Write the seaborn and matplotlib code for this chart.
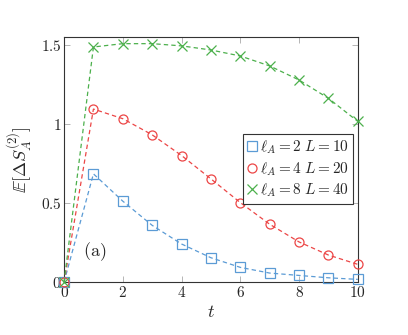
import numpy as np
import pandas as pd
import matplotlib
matplotlib.use('Agg')
import matplotlib.pyplot as plt
from matplotlib.lines import Line2D
from matplotlib.ticker import FuncFormatter
import seaborn as sns

# values
t = [0, 1, 2, 3, 4, 5, 6, 7, 8, 9, 10]
s_l2 = [0, 0.685, 0.512, 0.359, 0.241, 0.154, 0.093, 0.057, 0.042, 0.027, 0.017]
s_l4 = [0, 1.095, 1.034, 0.932, 0.801, 0.653, 0.503, 0.366, 0.254, 0.171, 0.112]
s_l8 = [0, 1.488, 1.509, 1.509, 1.495, 1.469, 1.431, 1.368, 1.279, 1.163, 1.017]
labels = [r'$\ell_A=2\ L=10$', r'$\ell_A=4\ L=20$', r'$\ell_A=8\ L=40$']

colors = ['#5b9bd5', '#ec4646', '#4cb04c']
markers = ['s', 'o', 'x']

sns.set_style('ticks')
plt.rcParams['font.family'] = ['DejaVu Serif']
plt.rcParams['mathtext.fontset'] = 'cm'

fig = plt.figure(figsize=(4.08, 3.35), dpi=100)
ax = fig.add_axes([0.157, 0.158, 0.72, 0.731])

for vals, lab, c, m in zip([s_l2, s_l4, s_l8], labels, colors, markers):
    df = pd.DataFrame({'t': t, 'S': vals})
    sns.lineplot(data=df, x='t', y='S', ax=ax, color=c, linestyle=(0, (3.5, 2.5)),
                 linewidth=0.9, marker=m, markersize=6.5, markerfacecolor='none',
                 markeredgecolor=c, markeredgewidth=0.9, clip_on=False, zorder=3)

ax.set_xlim(0, 10)
ax.set_ylim(0, 1.55)
ax.set_xticks([0, 2, 4, 6, 8, 10])
ax.set_yticks([0, 0.5, 1, 1.5])
fmt = FuncFormatter(lambda v, p: '$%g$' % v)
ax.xaxis.set_major_formatter(fmt)
ax.yaxis.set_major_formatter(fmt)
ax.tick_params(direction='in', top=True, right=True, length=4, width=0.5,
               color='#999999', labelsize=11, pad=2)
for sp in ax.spines.values():
    sp.set_linewidth(0.8)
    sp.set_color('#333333')

ax.set_xlabel('$t$', fontsize=13, labelpad=2)
ax.set_ylabel(r'$\mathbb{E}[\Delta S_A^{(2)}]$', fontsize=13, labelpad=4)

ax.text(1.05, 0.19, r'$\mathrm{(a)}$', fontsize=13, ha='center', va='center')

handles = [Line2D([], [], linestyle='none', marker=m, markersize=6.5,
                  markerfacecolor='none', markeredgecolor=c, markeredgewidth=0.9)
           for c, m in zip(colors, markers)]
leg = ax.legend(handles, labels, loc='upper right', bbox_to_anchor=(0.985, 0.605),
                fontsize=11, frameon=True, fancybox=False, framealpha=1,
                edgecolor='#333333', handlelength=0.6, handletextpad=0.2,
                labelspacing=0.25, borderpad=0.3, borderaxespad=0)
leg.get_frame().set_linewidth(0.8)

fig.savefig('out.png', dpi=100)
